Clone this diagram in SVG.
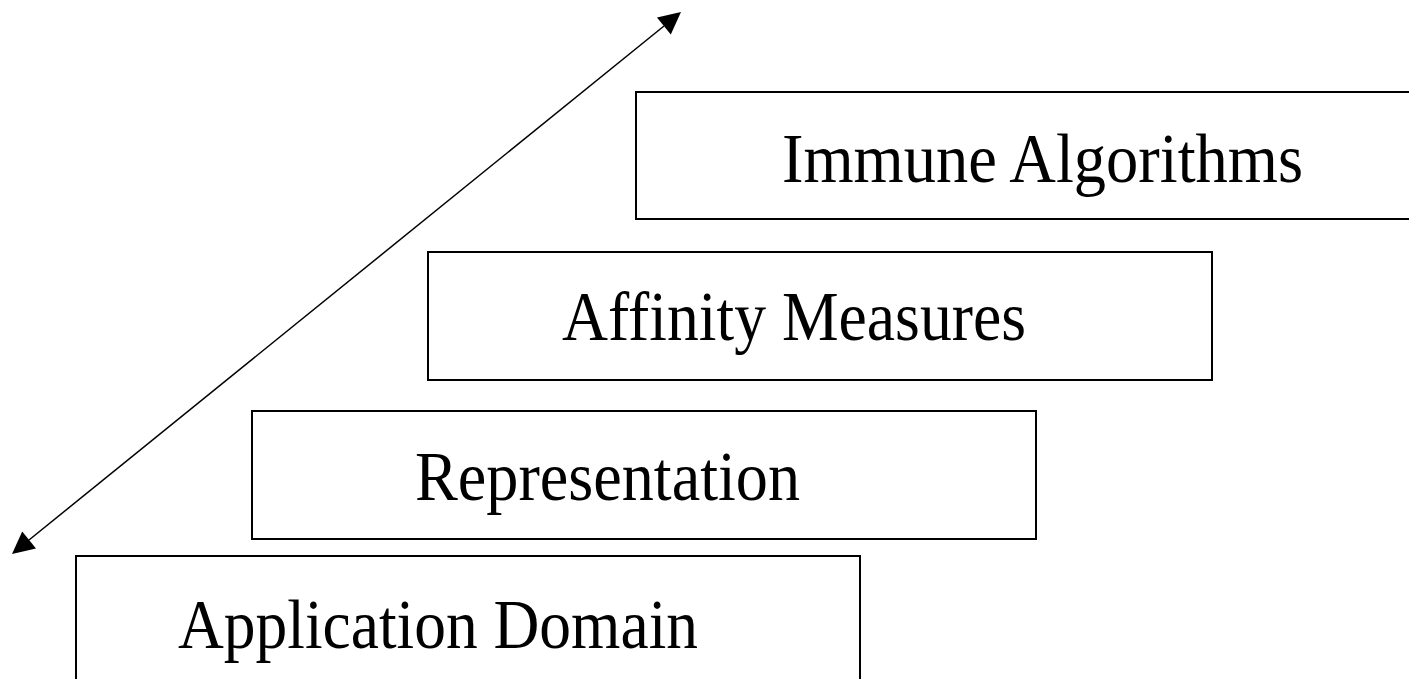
<svg xmlns="http://www.w3.org/2000/svg" width="1409" height="679" viewBox="0 0 1409 679">
<style>
.box{fill:#fff;stroke:#000;stroke-width:2}
.lbl{font-family:"Liberation Serif","Times New Roman",serif;font-size:69px;fill:#000}
</style>
<rect width="1409" height="679" fill="#fff"/>
<g id="node-immune">
<rect class="box" x="636" y="92" width="790" height="127"/>
<text class="lbl" x="782" y="182" textLength="521" lengthAdjust="spacingAndGlyphs">Immune Algorithms</text>
</g>
<g id="node-affinity">
<rect class="box" x="428" y="252" width="784" height="128"/>
<text class="lbl" x="562" y="340" textLength="464" lengthAdjust="spacingAndGlyphs">Affinity Measures</text>
</g>
<g id="node-representation">
<rect class="box" x="252" y="411" width="784" height="128"/>
<text class="lbl" x="415" y="500" textLength="385" lengthAdjust="spacingAndGlyphs">Representation</text>
</g>
<g id="node-application">
<rect class="box" x="76" y="556" width="784" height="140"/>
<text class="lbl" x="178" y="648" textLength="520" lengthAdjust="spacingAndGlyphs">Application Domain</text>
</g>
<g id="connectors">
<line x1="29" y1="540" x2="664" y2="26" stroke="#000" stroke-width="1.5"/>
<path d="M681,12 L670.8,34.4 L657,17.4 z" fill="#000"/>
<path d="M12,554 L22.2,531.6 L36,548.6 z" fill="#000"/>
</g>
</svg>
